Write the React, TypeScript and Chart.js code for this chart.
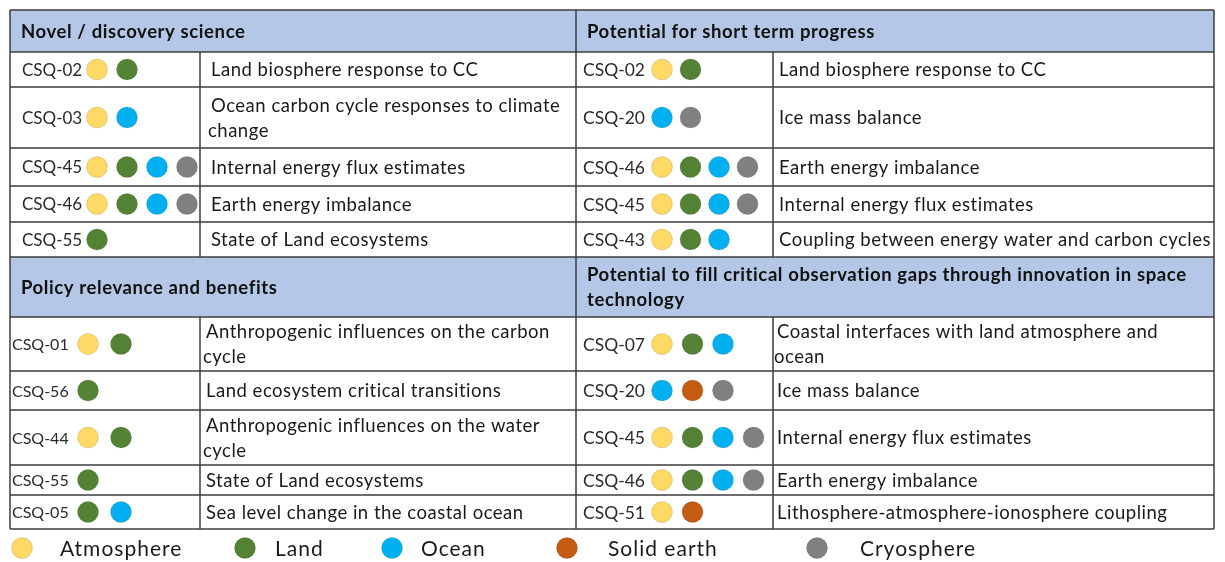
import React, { useEffect, useRef } from "react";
import { Chart, registerables } from "chart.js";

Chart.register(...registerables);

// ---------- data ----------
const spheres = ["Atmosphere", "Land", "Ocean", "Solid earth", "Cryosphere"];
const sphereColors = ["#FFD966", "#548235", "#00B0F0", "#C55A11", "#808080"];

const sectionTitles = [
  "Novel / discovery science",
  "Potential for short term progress",
  "Policy relevance and benefits",
  "Potential to fill critical observation gaps through innovation in space\ntechnology",
];

const novelCodes = ["CSQ-02", "CSQ-03", "CSQ-45", "CSQ-46", "CSQ-55"];
const novelTopics = [
  "Land biosphere response to CC",
  "Ocean carbon cycle responses to climate\nchange",
  "Internal energy flux estimates",
  "Earth energy imbalance",
  "State of Land ecosystems",
];
const novelSpheres = [
  ["Atmosphere", "Land"],
  ["Atmosphere", "Ocean"],
  ["Atmosphere", "Land", "Ocean", "Cryosphere"],
  ["Atmosphere", "Land", "Ocean", "Cryosphere"],
  ["Land"],
];

const shortTermCodes = ["CSQ-02", "CSQ-20", "CSQ-46", "CSQ-45", "CSQ-43"];
const shortTermTopics = [
  "Land biosphere response to CC",
  "Ice mass balance",
  "Earth energy imbalance",
  "Internal energy flux estimates",
  "Coupling between energy water and carbon cycles",
];
const shortTermSpheres = [
  ["Atmosphere", "Land"],
  ["Ocean", "Cryosphere"],
  ["Atmosphere", "Land", "Ocean", "Cryosphere"],
  ["Atmosphere", "Land", "Ocean", "Cryosphere"],
  ["Atmosphere", "Land", "Ocean"],
];

const policyCodes = ["CSQ-01", "CSQ-56", "CSQ-44", "CSQ-55", "CSQ-05"];
const policyTopics = [
  "Anthropogenic influences on the carbon\ncycle",
  "Land ecosystem critical transitions",
  "Anthropogenic influences on the water\ncycle",
  "State of Land ecosystems",
  "Sea level change in the coastal ocean",
];
const policySpheres = [
  ["Atmosphere", "Land"],
  ["Land"],
  ["Atmosphere", "Land"],
  ["Land"],
  ["Land", "Ocean"],
];

const gapsCodes = ["CSQ-07", "CSQ-20", "CSQ-45", "CSQ-46", "CSQ-51"];
const gapsTopics = [
  "Coastal interfaces with land atmosphere and\nocean",
  "Ice mass balance",
  "Internal energy flux estimates",
  "Earth energy imbalance",
  "Lithosphere-atmosphere-ionosphere coupling",
];
const gapsSpheres = [
  ["Atmosphere", "Land", "Ocean"],
  ["Ocean", "Solid earth", "Cryosphere"],
  ["Atmosphere", "Land", "Ocean", "Cryosphere"],
  ["Atmosphere", "Land", "Ocean", "Cryosphere"],
  ["Atmosphere", "Solid earth"],
];

// ---------- layout (positions / sizes / styles) ----------
const W = 1225;
const H = 562;
const colEdges = [10, 200, 576, 773, 1214];
const topHeader = [10, 52];
const topRowEdges = [52, 87, 148, 186, 222, 257];
const midHeader = [257, 317];
const bottomRowEdges = [317, 371, 410, 465, 495, 529];
const FONT = "Lato, 'Open Sans', sans-serif";
const HEADER_FILL = "#B4C7E7";
const LINE = "#3c3c3c";

type Section = {
  title: string;
  codes: string[];
  topics: string[];
  spheres: string[][];
  half: 0 | 1;
  edges: number[];
  header: number[];
  codeX: number;
  codeSize: number;
  topicX: number;
  dotStart: number;
  dotGap: number;
};

const sections: Section[] = [
  { title: sectionTitles[0], codes: novelCodes, topics: novelTopics, spheres: novelSpheres, half: 0, edges: topRowEdges, header: topHeader, codeX: 22, codeSize: 17, topicX: 211, dotStart: 97, dotGap: 30 },
  { title: sectionTitles[1], codes: shortTermCodes, topics: shortTermTopics, spheres: shortTermSpheres, half: 1, edges: topRowEdges, header: topHeader, codeX: 583, codeSize: 17.5, topicX: 779, dotStart: 662, dotGap: 28.5 },
  { title: sectionTitles[2], codes: policyCodes, topics: policyTopics, spheres: policySpheres, half: 0, edges: bottomRowEdges, header: midHeader, codeX: 12, codeSize: 16, topicX: 206, dotStart: 88, dotGap: 33 },
  { title: sectionTitles[3], codes: gapsCodes, topics: gapsTopics, spheres: gapsSpheres, half: 1, edges: bottomRowEdges, header: midHeader, codeX: 583, codeSize: 17.5, topicX: 777, dotStart: 662, dotGap: 30.5 },
];

const legendDotX = [22, 245, 392, 567, 817];
const legendTextX = [60, 275, 421, 608, 860];
const legendY = 548;

function buildDatasets() {
  return spheres.map((name, si) => {
    const pts: { x: number; y: number }[] = [];
    sections.forEach((sec) => {
      sec.spheres.forEach((list, ri) => {
        const slot = list.indexOf(name);
        if (slot >= 0) {
          const yc = (sec.edges[ri] + sec.edges[ri + 1]) / 2;
          pts.push({ x: sec.dotStart + slot * sec.dotGap, y: yc });
        }
      });
    });
    pts.push({ x: legendDotX[si], y: legendY });
    return {
      label: name,
      data: pts,
      backgroundColor: sphereColors[si],
      borderColor: "rgba(0,0,0,0.12)",
      borderWidth: 1,
      pointRadius: 10.5,
      pointHoverRadius: 10.5,
      clip: false as any,
    };
  });
}

const tablePlugin = {
  id: "tablePlugin",
  beforeDatasetsDraw(chart: any) {
    const { ctx, scales } = chart;
    const X = (v: number) => scales.x.getPixelForValue(v);
    const Y = (v: number) => scales.y.getPixelForValue(v);
    ctx.save();
    [topHeader, midHeader].forEach((h) => {
      ctx.fillStyle = HEADER_FILL;
      ctx.fillRect(X(colEdges[0]), Y(h[0]), X(colEdges[4]) - X(colEdges[0]), Y(h[1]) - Y(h[0]));
    });
    ctx.strokeStyle = LINE;
    ctx.lineWidth = 1.5;
    const hline = (y: number, x0: number, x1: number) => {
      ctx.beginPath();
      ctx.moveTo(X(x0), Y(y));
      ctx.lineTo(X(x1), Y(y));
      ctx.stroke();
    };
    const vline = (x: number, y0: number, y1: number) => {
      ctx.beginPath();
      ctx.moveTo(X(x), Y(y0));
      ctx.lineTo(X(x), Y(y1));
      ctx.stroke();
    };
    const allH = [...topHeader, ...topRowEdges, ...midHeader, ...bottomRowEdges];
    Array.from(new Set(allH)).forEach((y) => hline(y, colEdges[0], colEdges[4]));
    const bottom = bottomRowEdges[bottomRowEdges.length - 1];
    vline(colEdges[0], topHeader[0], bottom);
    vline(colEdges[2], topHeader[0], bottom);
    vline(colEdges[4], topHeader[0], bottom);
    [[topRowEdges[0], topRowEdges[topRowEdges.length - 1]], [bottomRowEdges[0], bottom]].forEach(([a, b]) => {
      vline(colEdges[1], a, b);
      vline(colEdges[3], a, b);
    });
    ctx.restore();
  },
  afterDatasetsDraw(chart: any) {
    const { ctx, scales } = chart;
    const X = (v: number) => scales.x.getPixelForValue(v);
    const Y = (v: number) => scales.y.getPixelForValue(v);
    ctx.save();
    ctx.textBaseline = "middle";
    ctx.textAlign = "left";
    const lineH = 25;
    sections.forEach((sec) => {
      const left = sec.half === 0 ? colEdges[0] : colEdges[2];
      ctx.fillStyle = "#111";
      ctx.font = `bold 18.5px ${FONT}`;
      (ctx as any).letterSpacing = "0.6px";
      const tl = sec.title.split("\n");
      const hc = (sec.header[0] + sec.header[1]) / 2;
      tl.forEach((t, i) => {
        ctx.fillText(t, X(left + 11), Y(hc + (i - (tl.length - 1) / 2) * lineH) + 1);
      });
      sec.codes.forEach((code, ri) => {
        const yc = (sec.edges[ri] + sec.edges[ri + 1]) / 2;
        ctx.fillStyle = "#2b2b2b";
        ctx.font = `${sec.codeSize}px ${FONT}`;
        (ctx as any).letterSpacing = "0px";
        ctx.fillText(code, X(sec.codeX), Y(yc) + 1);
        ctx.fillStyle = "#1a1a1a";
        ctx.font = `18.5px ${FONT}`;
        (ctx as any).letterSpacing = "0.5px";
        const lines = sec.topics[ri].split("\n");
        lines.forEach((t, i) => {
          const x = i === 0 ? sec.topicX : sec.topicX - 3;
          ctx.fillText(t, X(x), Y(yc + (i - (lines.length - 1) / 2) * lineH) + 1);
        });
      });
    });
    ctx.fillStyle = "#1a1a1a";
    ctx.font = `21px ${FONT}`;
    (ctx as any).letterSpacing = "1px";
    spheres.forEach((s, i) => {
      ctx.fillText(s, X(legendTextX[i]), Y(legendY) + 1);
    });
    ctx.restore();
  },
};

export default function App() {
  const ref = useRef<HTMLCanvasElement | null>(null);
  useEffect(() => {
    document.body.style.margin = "0";
    const canvas = ref.current;
    if (!canvas) return;
    const chart = new Chart(canvas, {
      type: "scatter",
      data: { datasets: buildDatasets() as any },
      options: {
        responsive: false,
        animation: false,
        devicePixelRatio: 1,
        layout: { padding: 0, autoPadding: false },
        events: [],
        scales: {
          x: { type: "linear", min: 0, max: W, display: false },
          y: { type: "linear", min: 0, max: H, reverse: true, display: false },
        },
        plugins: { legend: { display: false }, tooltip: { enabled: false } },
      },
      plugins: [tablePlugin],
    });
    return () => chart.destroy();
  }, []);
  return (
    <div style={{ position: "absolute", left: 0, top: 0, width: W, height: H, background: "#fff" }}>
      <canvas ref={ref} width={W} height={H} style={{ width: W, height: H, display: "block" }} />
    </div>
  );
}
